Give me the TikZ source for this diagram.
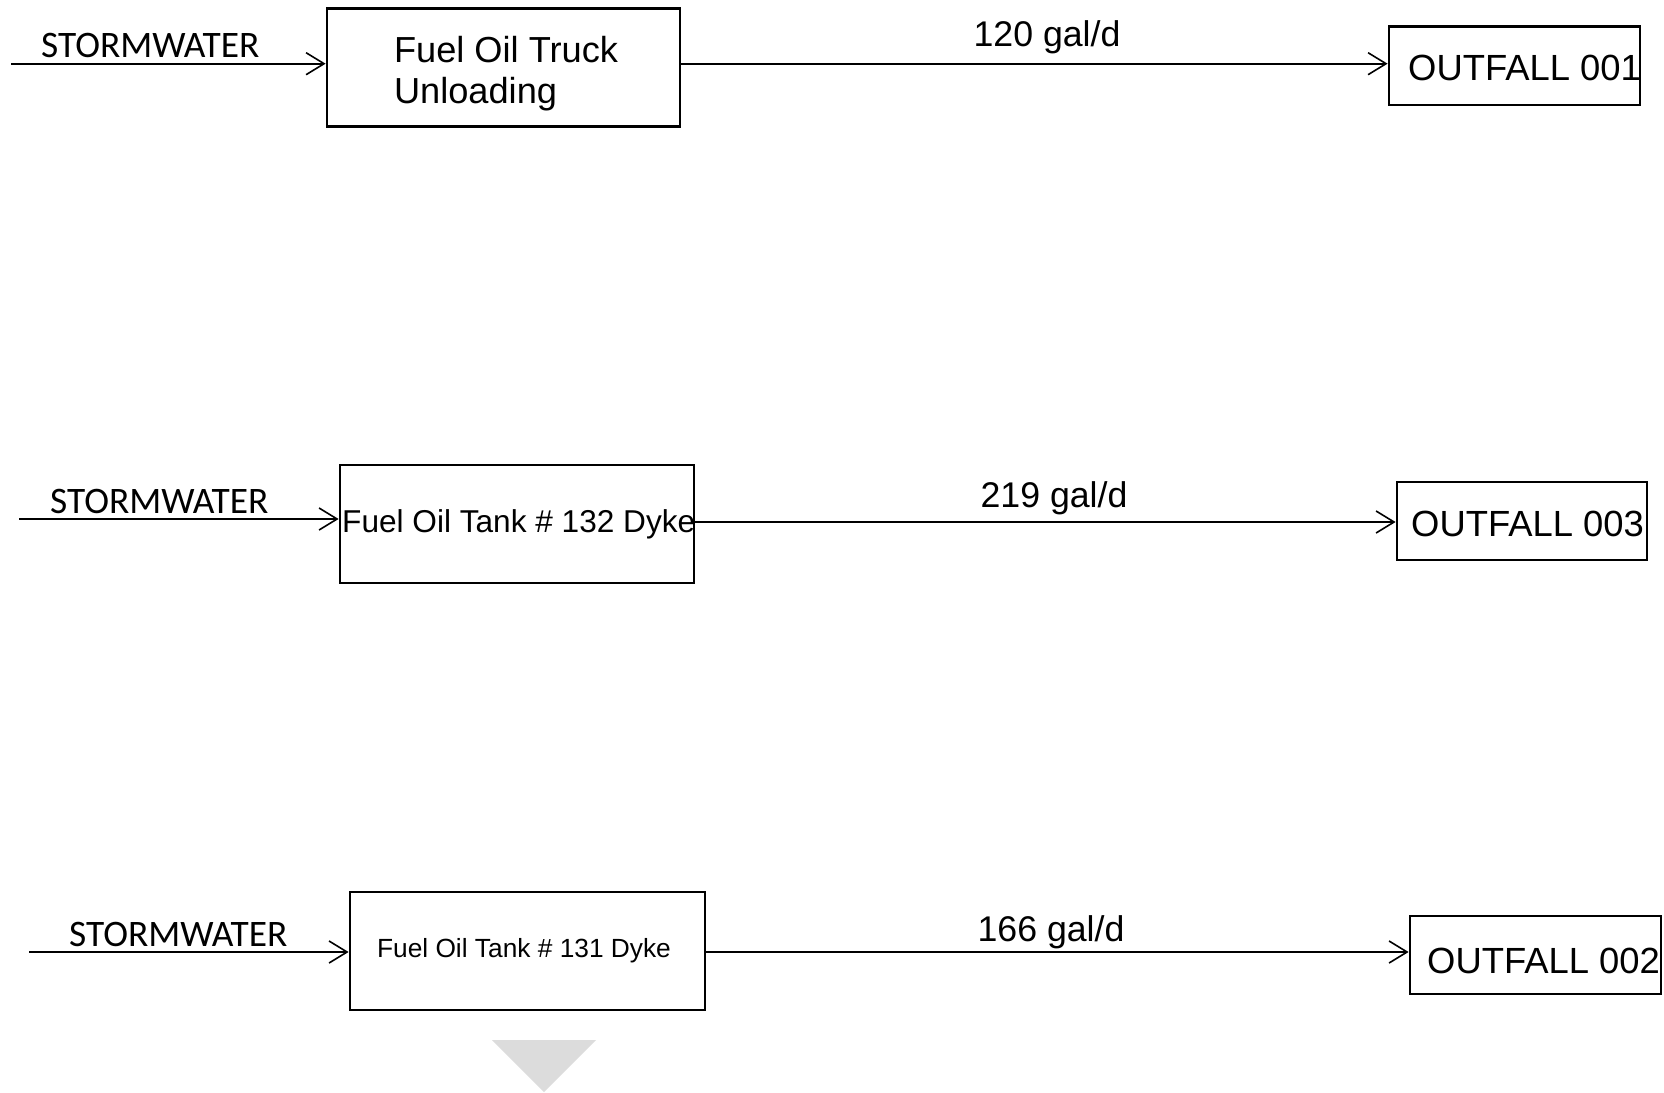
\documentclass[tikz,border=0pt]{standalone}
\usepackage{fontspec}
\setmainfont{Liberation Sans}
\newfontfamily\stormfont{Carlito}
\usetikzlibrary{arrows.meta}
\definecolor{tri}{RGB}{220,220,220}
\begin{document}
\begin{tikzpicture}[x=1pt,y=-1pt,
  boxed/.style={draw=black,line width=2.8pt,minimum width=#1,inner sep=0pt},
  flow/.style={line width=1.6pt,-{Straight Barb[length=18pt,width=22pt,line width=1.6pt]}},
  storm/.style={font=\stormfont\fontsize{37.4}{40}\selectfont,anchor=base west,inner sep=0pt},
  rate/.style={font=\fontsize{35.7}{40}\selectfont,inner sep=0pt},
  outtext/.style={font=\fontsize{36.4}{40}\selectfont,anchor=west,inner sep=0pt}]
\useasboundingbox (0,0) rectangle (1664,1092);
% Row 1
\node[boxed=353pt,minimum height=118pt] (b1) at (503.5,67.4) {};
\node[align=left,inner sep=0pt,font=\fontsize{36.2}{41}\selectfont] (t1) at (506,73.5) {Fuel Oil Truck\\Unloading};
\node[boxed=251pt,minimum height=78.5pt] (o1) at (1514.5,65.8) {};
\node[outtext] (ot1) at (1408,68) {OUTFALL 001};
\coordinate (s1) at (11,63.7);
\draw[flow] (s1) -- (s1 -| b1.west);
\node[storm] (w1) at (41,57) {STORMWATER};
\draw[flow] (s1 -| b1.east) -- (s1 -| o1.west);
\node[rate] (r1) at (1047,37) {120 gal/d};
% Row 2
\node[boxed=354pt,minimum height=118pt] (b2) at (517,524) {};
\node[inner sep=0pt,anchor=west,font=\fontsize{31.6}{36}\selectfont] (t2) at (342,524) {Fuel Oil Tank \# 132 Dyke};
\node[boxed=250pt,minimum height=78pt] (o3) at (1522,521) {};
\node[outtext] (ot3) at (1411,524) {OUTFALL 003};
\coordinate (s2) at (19,519);
\draw[flow] (s2) -- (s2 -| b2.west);
\node[storm] (w2) at (50,513) {STORMWATER};
\coordinate (m2) at (694,522);
\draw[flow] (m2) -- (m2 -| o3.west);
\node[rate] (r2) at (1054,498) {219 gal/d};
% Row 3
\node[boxed=355pt,minimum height=118pt] (b3) at (527.5,951) {};
\node[inner sep=0pt,font=\fontsize{26.3}{30}\selectfont] (t3) at (524,951) {Fuel Oil Tank \# 131 Dyke};
\node[boxed=251pt,minimum height=78pt] (o2) at (1535.5,955) {};
\node[outtext] (ot2) at (1427,961) {OUTFALL 002};
\coordinate (s3) at (29,952);
\draw[flow] (s3) -- (s3 -| b3.west);
\node[storm] (w3) at (69,946) {STORMWATER};
\draw[flow] (s3 -| b3.east) -- (s3 -| o2.west);
\node[rate] (r3) at (1051,932) {166 gal/d};
% grey triangle
\fill[tri] (492,1040) -- (596,1040) -- (544,1092) -- cycle;
\end{tikzpicture}
\end{document}
